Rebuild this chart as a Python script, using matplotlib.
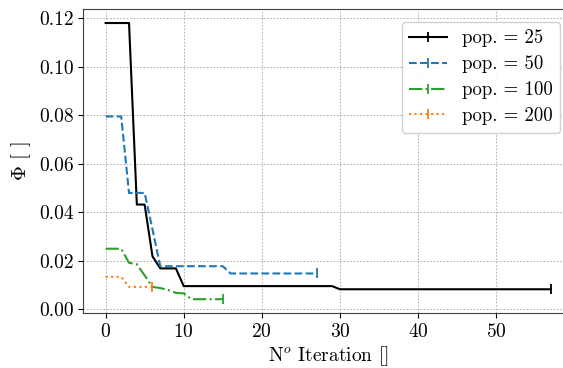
import matplotlib
matplotlib.use('Agg')
import matplotlib.pyplot as plt

plt.rcParams['font.family'] = 'serif'
plt.rcParams['font.serif'] = ['cmr10']
plt.rcParams['mathtext.fontset'] = 'cm'
plt.rcParams['axes.formatter.use_mathtext'] = True
plt.rcParams['font.size'] = 14

# convergence histories (iteration, objective)
it_25 = [0, 1, 2, 3, 4, 5, 6, 7, 8, 9, 10, 15, 20, 25, 29, 30, 40, 50, 57]
phi_25 = [0.118, 0.118, 0.118, 0.118, 0.0432, 0.0432, 0.0219, 0.0169, 0.0169, 0.0169,
          0.0096, 0.0096, 0.0096, 0.0096, 0.0096, 0.0083, 0.0083, 0.0083, 0.0083]

it_50 = [0, 1, 2, 3, 4, 5, 6, 7, 10, 15, 16, 20, 27]
phi_50 = [0.0795, 0.0795, 0.0795, 0.048, 0.048, 0.048, 0.033, 0.0178, 0.0178, 0.0178,
          0.0148, 0.0148, 0.0148]

it_100 = [0, 1, 2, 3, 4, 5, 6, 7, 8, 9, 10, 11, 13, 15]
phi_100 = [0.025, 0.025, 0.025, 0.0192, 0.0186, 0.014, 0.0093, 0.0088, 0.0080, 0.0068,
           0.0066, 0.0042, 0.0042, 0.0042]

it_200 = [0, 1, 2, 3, 4, 5, 6]
phi_200 = [0.0134, 0.0134, 0.0134, 0.0093, 0.0093, 0.0093, 0.0093]

labels = ['pop. = 25', 'pop. = 50', 'pop. = 100', 'pop. = 200']

fig = plt.figure(figsize=(5.63, 3.68), dpi=100)
ax = fig.add_axes([0.148, 0.150, 0.870, 0.825])

mk = dict(marker='|', markevery=[-1], ms=6.5, mew=1.3, lw=1.5)
ax.plot(it_25, phi_25, 'k-', label=labels[0], **mk)
ax.plot(it_50, phi_50, '--', color='tab:blue', label=labels[1], **mk)
ax.plot(it_100, phi_100, '-.', color='tab:green', label=labels[2], **mk)
ax.plot(it_200, phi_200, ':', color='tab:orange', label=labels[3], **mk)

ax.set_xlim(-2.85, 59.85)
ax.set_ylim(-0.0014, 0.1237)
ax.set_xticks([0, 10, 20, 30, 40, 50])
ax.set_yticks([0.0, 0.02, 0.04, 0.06, 0.08, 0.10, 0.12])
ax.set_yticklabels(['0.00', '0.02', '0.04', '0.06', '0.08', '0.10', '0.12'])
ax.set_xlabel(r'N$^o$ Iteration []', labelpad=3)
ax.set_ylabel(r'$\Phi$ [ ]', fontsize=15)
ax.grid(True, ls='--', lw=0.6, color='0.65', dashes=(2, 2))
for s in ax.spines.values():
    s.set_color('0.25')

ax.legend(loc='upper right', bbox_to_anchor=(1.011, 0.966), bbox_transform=fig.transFigure,
          fontsize=13.5, framealpha=0.9, labelspacing=0.42, handlelength=2.0)

fig.savefig('out.png', dpi=100)
